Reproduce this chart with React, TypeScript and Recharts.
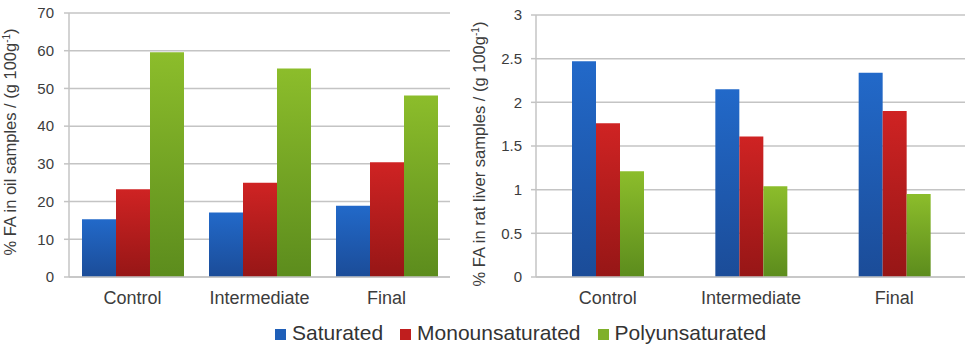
import React from "react";
import { BarChart, Bar, XAxis, YAxis, CartesianGrid, Label } from "recharts";

const categories = ["Control", "Intermediate", "Final"];

// Fatty acid content in the oils (g/100 g)
const oilSaturated = [15.3, 17.1, 18.9];
const oilMono = [23.3, 25.0, 30.4];
const oilPoly = [59.6, 55.3, 48.1];

// Fatty acid content in rat liver (g/100 g)
const liverSaturated = [2.47, 2.15, 2.34];
const liverMono = [1.76, 1.61, 1.9];
const liverPoly = [1.21, 1.04, 0.95];

const oilTicks = [0, 10, 20, 30, 40, 50, 60, 70];
const liverTicks = [0, 0.5, 1, 1.5, 2, 2.5, 3];

const seriesNames = ["Saturated", "Monounsaturated", "Polyunsaturated"];
const seriesKeys = ["sat", "mono", "poly"];
const gradients = [
  { id: "gSat", top: "#2269c9", bottom: "#1b4c98", swatch: "#1f5fb8" },
  { id: "gMono", top: "#cf2323", bottom: "#961616", swatch: "#c01e1e" },
  { id: "gPoly", top: "#8cbd2b", bottom: "#5c8c1d", swatch: "#7fb02a" },
];

const oilData = categories.map((name, i) => ({
  name,
  sat: oilSaturated[i],
  mono: oilMono[i],
  poly: oilPoly[i],
}));

const liverData = categories.map((name, i) => ({
  name,
  sat: liverSaturated[i],
  mono: liverMono[i],
  poly: liverPoly[i],
}));

const FONT = "'Liberation Sans', Arial, sans-serif";
const TEXT = "#3c3c3c";
const GRID = "#c4c4c4";

function axisTitle(prefix: string, dx: number, dy: number) {
  return (props: any) => {
    const vb = props.viewBox ?? { y: 0, height: 264 };
    const cy = vb.y + vb.height / 2 + dy;
    return (
      <text
        transform={`translate(${dx},${cy}) rotate(-90)`}
        textAnchor="middle"
        fontFamily={FONT}
        fontSize={16.5}
        fill={TEXT}
      >
        {prefix}
        <tspan fontSize={10} dy={-6}>-1</tspan>
        <tspan dy={6}>)</tspan>
      </text>
    );
  };
}

function GradientDefs() {
  return (
    <defs>
      {gradients.map((g) => (
        <linearGradient key={g.id} id={g.id} x1="0" y1="0" x2="0" y2="1">
          <stop offset="0%" stopColor={g.top} />
          <stop offset="100%" stopColor={g.bottom} />
        </linearGradient>
      ))}
    </defs>
  );
}

export default function App() {
  return (
    <div
      style={{
        position: "absolute",
        left: 0,
        top: 0,
        width: 965,
        height: 344,
        overflow: "hidden",
        background: "#fff",
        fontFamily: FONT,
      }}
    >
      <div style={{ position: "absolute", left: 0, top: 0 }}>
        <BarChart
          width={452}
          height={310}
          data={oilData}
          margin={{ top: 13, right: 2, left: 0, bottom: 0 }}
          barCategoryGap={13}
          barGap={0}
        >
          <GradientDefs />
          <CartesianGrid vertical={false} stroke={GRID} strokeWidth={1.5} />
          <XAxis
            dataKey="name"
            height={33}
            tickSize={0}
            tickMargin={14}
            axisLine={{ stroke: GRID, strokeWidth: 1.5 }}
            tick={{ fill: TEXT, fontSize: 18, fontFamily: FONT }}
          />
          <YAxis
            width={69}
            domain={[0, 70]}
            ticks={oilTicks}
            interval={0}
            tickSize={5}
            tickMargin={10}
            axisLine={{ stroke: GRID, strokeWidth: 1.5 }}
            tickLine={{ stroke: GRID, strokeWidth: 1.5 }}
            tick={{ fill: TEXT, fontSize: 15, fontFamily: FONT }}
          >
            <Label content={axisTitle("% FA in oil samples / (g 100g", 16, -3)} />
          </YAxis>
          {seriesKeys.map((k, i) => (
            <Bar
              key={k}
              dataKey={k}
              name={seriesNames[i]}
              fill={`url(#${gradients[i].id})`}
              isAnimationActive={false}
            />
          ))}
        </BarChart>
      </div>

      <div style={{ position: "absolute", left: 470, top: 0 }}>
        <BarChart
          width={496}
          height={310}
          data={liverData}
          margin={{ top: 15, right: 0, left: 0, bottom: 0 }}
          barCategoryGap={36}
          barGap={0}
        >
          <GradientDefs />
          <CartesianGrid vertical={false} stroke={GRID} strokeWidth={1.5} />
          <XAxis
            dataKey="name"
            height={33}
            tickSize={0}
            tickMargin={14}
            axisLine={{ stroke: GRID, strokeWidth: 1.5 }}
            tick={{ fill: TEXT, fontSize: 18, fontFamily: FONT }}
          />
          <YAxis
            width={66}
            domain={[0, 3]}
            ticks={liverTicks}
            interval={0}
            tickSize={5}
            tickMargin={9}
            axisLine={{ stroke: GRID, strokeWidth: 1.5 }}
            tickLine={{ stroke: GRID, strokeWidth: 1.5 }}
            tick={{ fill: TEXT, fontSize: 15, fontFamily: FONT }}
          >
            <Label content={axisTitle("% FA in rat liver samples / (g 100g", 15, 8)} />
          </YAxis>
          {seriesKeys.map((k, i) => (
            <Bar
              key={k}
              dataKey={k}
              name={seriesNames[i]}
              fill={`url(#${gradients[i].id})`}
              isAnimationActive={false}
            />
          ))}
        </BarChart>
      </div>

      {/* shared legend under both panels */}
      <div
        style={{
          position: "absolute",
          left: 275,
          top: 321,
          display: "flex",
          alignItems: "baseline",
          fontSize: 21,
          color: "#333",
          lineHeight: "24px",
        }}
      >
        {seriesNames.map((name, i) => (
          <div key={name} style={{ display: "flex", alignItems: "baseline", marginRight: 17 }}>
            <span
              style={{
                display: "inline-block",
                width: 11,
                height: 11,
                background: gradients[i].swatch,
                marginRight: 6,
              }}
            />
            <span>{name}</span>
          </div>
        ))}
      </div>
    </div>
  );
}
